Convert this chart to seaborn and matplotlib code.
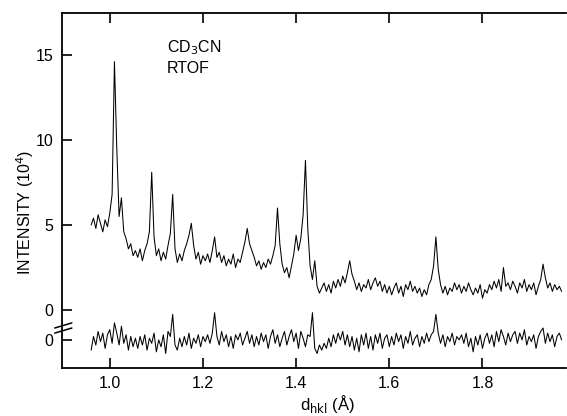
import numpy as np
import pandas as pd
import matplotlib
matplotlib.use("Agg")
import matplotlib.pyplot as plt
import matplotlib.transforms as mtransforms
import seaborn as sns

# d-spacing grid (Angstrom), 0.005 steps from 0.960 to 1.980
d_start = 0.960
d_step = 0.005

observed = [
    5.0, 5.4, 4.8, 5.6, 5.1, 4.6, 5.3, 4.9, 5.7, 6.8,
    14.6, 9.5, 5.5, 6.6, 4.6, 4.2, 3.6, 3.9, 3.2, 3.5,
    3.1, 3.6, 2.9, 3.5, 3.9, 4.6, 8.1, 4.3, 3.2, 3.6,
    2.9, 3.4, 3.0, 3.8, 4.5, 6.8, 3.6, 2.8, 3.3, 2.9,
    3.5, 3.9, 4.4, 5.1, 3.8, 3.0, 3.4, 2.7, 3.2, 2.9,
    3.3, 2.8, 3.5, 4.3, 3.1, 3.4, 2.8, 3.2, 2.6, 3.0,
    2.7, 3.3, 2.5, 3.0, 2.8, 3.4, 4.0, 4.8, 3.9, 3.5,
    3.1, 2.6, 2.9, 2.4, 2.8, 2.5, 3.0, 2.7, 3.2, 3.8,
    6.0, 3.9, 2.7, 2.2, 2.5, 1.9, 2.6, 3.3, 4.4, 3.5,
    4.2, 5.6, 8.8, 4.8, 2.6, 1.8, 2.9, 1.4, 1.0, 1.3,
    1.6, 1.1, 1.5, 1.0, 1.7, 1.3, 1.8, 1.4, 2.0, 1.6,
    2.2, 2.9, 2.1, 1.7, 1.2, 1.6, 1.1, 1.5, 1.3, 1.8,
    1.2, 1.6, 1.9, 1.4, 1.7, 1.1, 1.5, 1.0, 1.4, 0.9,
    1.3, 1.6, 1.0, 1.4, 0.8, 1.5, 1.2, 1.7, 1.1, 1.4,
    1.0, 1.3, 0.8, 1.2, 0.9, 1.5, 1.8, 2.6, 4.3, 2.4,
    1.5, 1.0, 1.4, 0.9, 1.3, 1.1, 1.6, 1.2, 1.5, 1.0,
    1.4, 1.1, 1.6, 1.2, 0.9, 1.3, 1.0, 1.5, 0.7, 1.2,
    1.0, 1.5, 1.2, 1.7, 1.3, 1.8, 1.1, 2.5, 1.4, 1.6,
    1.2, 1.7, 1.4, 1.0, 1.6, 1.3, 1.8, 1.1, 1.5, 1.2,
    1.6, 0.9, 1.4, 1.8, 2.7, 1.9, 1.3, 1.6, 1.1, 1.5,
    1.2, 1.4, 1.1,
]

# difference curve (observed - calculated), plotted on its own shifted zero
difference = [
    -0.6, 0.2, -0.3, 0.5, -0.1, 0.4, -0.5, 0.3, 0.6, -0.2,
    1.0, 0.4, -0.3, 0.8, -0.2, 0.3, -0.6, 0.2, -0.4, 0.1,
    -0.5, 0.2, -0.3, 0.3, -0.6, 0.1, -0.2, 0.4, -0.7, 0.0,
    -0.4, 0.3, -0.8, 0.5, 0.2, 1.5, -0.3, -0.6, 0.1, -0.4,
    0.2, -0.3, 0.4, -0.5, 0.1, -0.2, 0.3, -0.4, 0.2, -0.1,
    0.3, -0.2, 0.4, 1.6, 0.2, -0.3, 0.5, -0.1, 0.3, -0.4,
    0.2, -0.5, 0.3, 0.0, 0.4, -0.3, 0.1, 0.5, -0.2, 0.3,
    -0.4, 0.2, -0.3, 0.4, -0.1, 0.3, -0.5, 0.2, 0.6, -0.2,
    0.3, -0.4, 0.1, 0.5, -0.3, 0.2, 0.6, -0.1, 0.4, -0.5,
    0.5, 0.1, -0.4, 0.3, 0.2, 1.6, -0.5, -0.8, -0.3, -0.6,
    -0.2, -0.5, 0.1, -0.4, 0.3, -0.2, 0.4, 0.0, 0.5, -0.3,
    0.3, -0.4, 0.2, -0.6, 0.1, -0.7, 0.3, -0.3, 0.4, -0.5,
    0.2, -0.6, 0.3, -0.2, 0.4, -0.5, 0.1, 0.3, -0.4, 0.2,
    -0.3, 0.4, -0.1, 0.3, -0.5, 0.2, -0.2, 0.5, -0.3, 0.1,
    0.3, -0.4, 0.2, -0.2, 0.4, -0.1, 0.3, 0.5, 1.5, 0.4,
    -0.2, 0.3, -0.4, 0.2, -0.1, 0.4, -0.3, 0.2, 0.0, 0.3,
    -0.2, 0.4, -0.4, 0.1, -0.7, 0.2, -0.3, 0.3, -0.5, 0.1,
    0.4, -0.2, 0.3, -0.4, 0.5, -0.1, 0.6, 0.2, -0.3, 0.4,
    -0.1, 0.3, 0.5, -0.2, 0.4, 0.0, 0.6, -0.3, 0.2, -0.1,
    0.3, -0.5, 0.2, 0.5, 0.7, -0.2, 0.4, -0.1, 0.3, -0.4,
    0.2, 0.4, 0.0,
]

diff_zero = -1.75  # where the difference curve's zero sits
x_ticks = [1.0, 1.2, 1.4, 1.6, 1.8]
x_ticklabels = ["1.0", "1.2", "1.4", "1.6", "1.8"]
y_ticks = [diff_zero, 0, 5, 10, 15]
y_ticklabels = ["0", "0", "5", "10", "15"]

d = np.round(d_start + d_step * np.arange(len(observed)), 3)
df = pd.DataFrame({"d": d, "obs": observed,
                   "diff": np.array(difference) + diff_zero})

sns.set_theme(style="ticks")
plt.rcParams['font.family'] = ['Liberation Sans', 'DejaVu Sans']
plt.rcParams['text.color'] = 'black'

fig = plt.figure(figsize=(5.67, 4.16), dpi=100)
ax = fig.add_axes([0.109, 0.1154, 0.889, 0.8534])

sns.lineplot(data=df, x="d", y="obs", ax=ax, color="black", lw=0.75)
sns.lineplot(data=df, x="d", y="diff", ax=ax, color="black", lw=0.75)

ax.set_xlim(0.897, 1.979)
ax.set_ylim(-3.4, 17.46)
ax.set_xticks(x_ticks)
ax.set_xticklabels(x_ticklabels)
ax.set_yticks(y_ticks)
ax.set_yticklabels(y_ticklabels)
ax.tick_params(direction="in", length=7, width=1.2, labelsize=11.5,
               colors="black", top=True, pad=6)
ax.set_xlabel("")
ax.set_ylabel("")
ax.spines["right"].set_visible(False)
for s in ["left", "bottom", "top"]:
    ax.spines[s].set_linewidth(1.3)
    ax.spines[s].set_color("black")

# axis break marks on the left spine
tr = mtransforms.blended_transform_factory(ax.transAxes, ax.transData)
for off in (-0.9, -1.2):
    ax.plot([-0.014, 0.02], [off - 0.15, off + 0.15], color="black",
            lw=1.1, transform=tr, clip_on=False)

ax.text(0.208, 0.93, "CD$_3$CN", transform=ax.transAxes, fontsize=11.5,
        va="top", ha="left", color="black")
ax.text(0.208, 0.865, "RTOF", transform=ax.transAxes, fontsize=11.5,
        va="top", ha="left", color="black")

fig.text(0.045, 0.49, "INTENSITY (10$^4$)", rotation=90, fontsize=11.5,
         ha="center", va="center", color="black")
fig.text(0.578, 0.03, "d$_{\\mathrm{hkl}}$ (Å)", fontsize=12,
         ha="center", va="center", color="black")

fig.savefig("out.png", dpi=100, facecolor="white")
